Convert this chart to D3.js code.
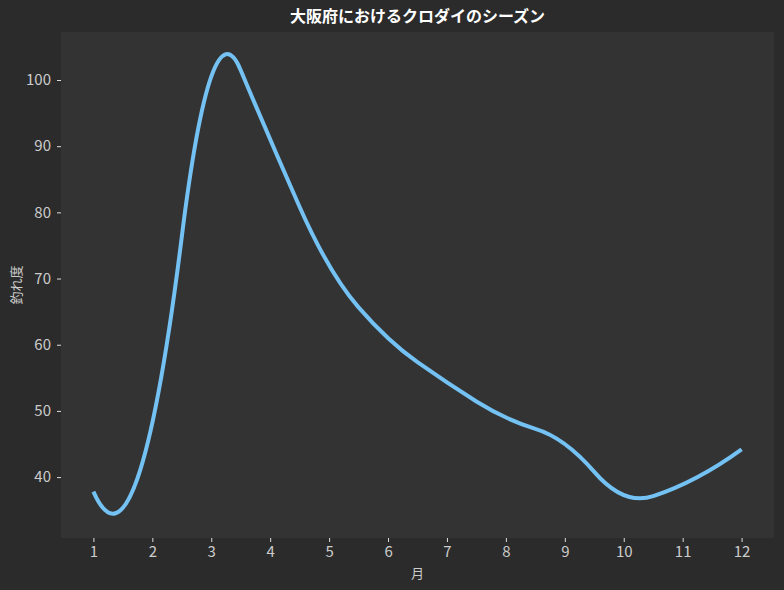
<!DOCTYPE html>
<html><head><meta charset="utf-8">
<script src="https://cdn.jsdelivr.net/npm/d3@7"></script>
<style>
html,body{margin:0;padding:0;background:#2b2b2b;}
svg{display:block;}
text{font-family:"Noto Sans CJK JP","Noto Sans",sans-serif;}
.tick text{font-family:"Liberation Sans Narrow","Noto Sans CJK JP",sans-serif;}
</style></head>
<body>
<div id="chart"></div>
<script>
const months = [1,2,3,4,5,6,7,8,9,10,11,12];
const catchValues = [37.8, 48.2, 100.5, 91, 72, 61, 54.3, 49, 45, 37.3, 38.9, 44.2];
const yTicks = [40,50,60,70,80,90,100];
const title = "大阪府におけるクロダイのシーズン";
const xLabel = "月";
const yLabel = "釣れ度";

// interpolating quadratic B-spline curve (knots at midpoints, not-a-knot style ends)
function curveQuadSpline(context){ return new QS(context); }
function QS(context){ this._context = context; }
function deBoor(t, c, k, x){
  const n = c.length; let l = k;
  while (l < n-1 && x >= t[l+1]) l++;
  const d = []; for (let j=0;j<=k;j++) d.push(c[j+l-k]);
  for (let r=1;r<=k;r++) for (let j=k;j>=r;j--){
    const den = t[j+1+l-r] - t[j+l-k];
    const a = den ? (x - t[j+l-k]) / den : 0;
    d[j] = (1-a)*d[j-1] + a*d[j];
  }
  return d[k];
}
function solve(A, b){
  const n = b.length;
  for (let col=0; col<n; col++){
    let p = col; for (let r=col+1;r<n;r++) if (Math.abs(A[r][col])>Math.abs(A[p][col])) p=r;
    [A[col],A[p]] = [A[p],A[col]]; [b[col],b[p]] = [b[p],b[col]];
    for (let r=col+1;r<n;r++){ const f = A[r][col]/A[col][col]; if (!f) continue;
      for (let j=col;j<n;j++) A[r][j]-=f*A[col][j]; b[r]-=f*b[col]; }
  }
  const s = new Array(n).fill(0);
  for (let r=n-1;r>=0;r--){ let v=b[r]; for (let j=r+1;j<n;j++) v-=A[r][j]*s[j]; s[r]=v/A[r][r]; }
  return s;
}
QS.prototype = {
  areaStart(){}, areaEnd(){},
  lineStart(){ this._x = []; this._y = []; },
  point(x,y){ this._x.push(+x); this._y.push(+y); },
  lineEnd(){
    const X = this._x, Y = this._y, n = X.length, c = this._context, k = 2;
    if (!n) return;
    c.moveTo(X[0], Y[0]);
    if (n < 4) { for (let i=1;i<n;i++) c.lineTo(X[i],Y[i]); return; }
    const mids = []; for (let i=0;i<n-1;i++) mids.push((X[i]+X[i+1])/2);
    const inner = mids.slice(1, -1);
    const t = [X[0],X[0],X[0], ...inner, X[n-1],X[n-1],X[n-1]];
    const A = [];
    for (let i=0;i<n;i++){
      const row = [];
      for (let j=0;j<n;j++){ const e = new Array(n).fill(0); e[j]=1; row.push(deBoor(t, e, k, X[i])); }
      A.push(row);
    }
    const coef = solve(A, Y.slice());
    const br = [X[0], ...inner, X[n-1]];
    for (let i=0;i<br.length-1;i++){
      const a = br[i], b = br[i+1];
      const p0 = deBoor(t, coef, k, a), pm = deBoor(t, coef, k, (a+b)/2);
      const p1 = deBoor(t, coef, k, b - 1e-9*(b-a));
      const qa = 2*(p0 - 2*pm + p1), qb = p1 - p0 - qa;
      c.bezierCurveTo(a+(b-a)/3, p0+qb/3, b-(b-a)/3, p1-(qb+2*qa)/3, b, p1);
    }
  }
};

const W = 784, H = 590;
const m = {left:61, right:10, top:32, bottom:52};
const svg = d3.select("#chart").append("svg").attr("width",W).attr("height",H);
svg.append("rect").attr("width",W).attr("height",H).attr("fill","#2b2b2b");

const x = d3.scaleLinear().domain([0.45, 12.55]).range([m.left, W-m.right]);
const y = d3.scaleLinear().domain([30.8, 107.25]).range([H-m.bottom, m.top]);

svg.append("rect").attr("x",m.left).attr("y",m.top)
  .attr("width",W-m.left-m.right).attr("height",H-m.top-m.bottom).attr("fill","#333333");

const xAxis = svg.append("g").attr("transform",`translate(0,${H-m.bottom})`)
  .call(d3.axisBottom(x).tickValues(months).tickSize(4).tickPadding(4).tickFormat(d3.format("d")));
const yAxis = svg.append("g").attr("transform",`translate(${m.left},0)`)
  .call(d3.axisLeft(y).tickValues(yTicks).tickSize(4).tickPadding(6).tickFormat(d3.format("d")));
[xAxis,yAxis].forEach(a=>{
  a.select(".domain").remove();
  a.selectAll(".tick line").attr("stroke","#dddddd").attr("stroke-width",1);
  a.selectAll(".tick text").attr("fill","#cccccc").style("font-size","15px");
});

const line = d3.line().x((d,i)=>x(months[i])).y(d=>y(d)).curve(curveQuadSpline);
svg.append("path").datum(catchValues).attr("d",line)
  .attr("fill","none").attr("stroke","#74c1f3").attr("stroke-width",4).attr("stroke-linecap","butt");

svg.append("text").attr("x",(m.left+W-m.right)/2).attr("y",22).attr("text-anchor","middle")
  .attr("fill","#ffffff").style("font-size","16px").style("font-weight","bold").text(title);
svg.append("text").attr("x",(m.left+W-m.right)/2).attr("y",578).attr("text-anchor","middle")
  .attr("fill","#cccccc").style("font-size","13px").text(xLabel);
svg.append("text").attr("transform",`translate(21,${(m.top+H-m.bottom)/2}) rotate(-90)`).attr("text-anchor","middle")
  .attr("fill","#cccccc").style("font-size","13px").text(yLabel);
</script>
</body></html>
